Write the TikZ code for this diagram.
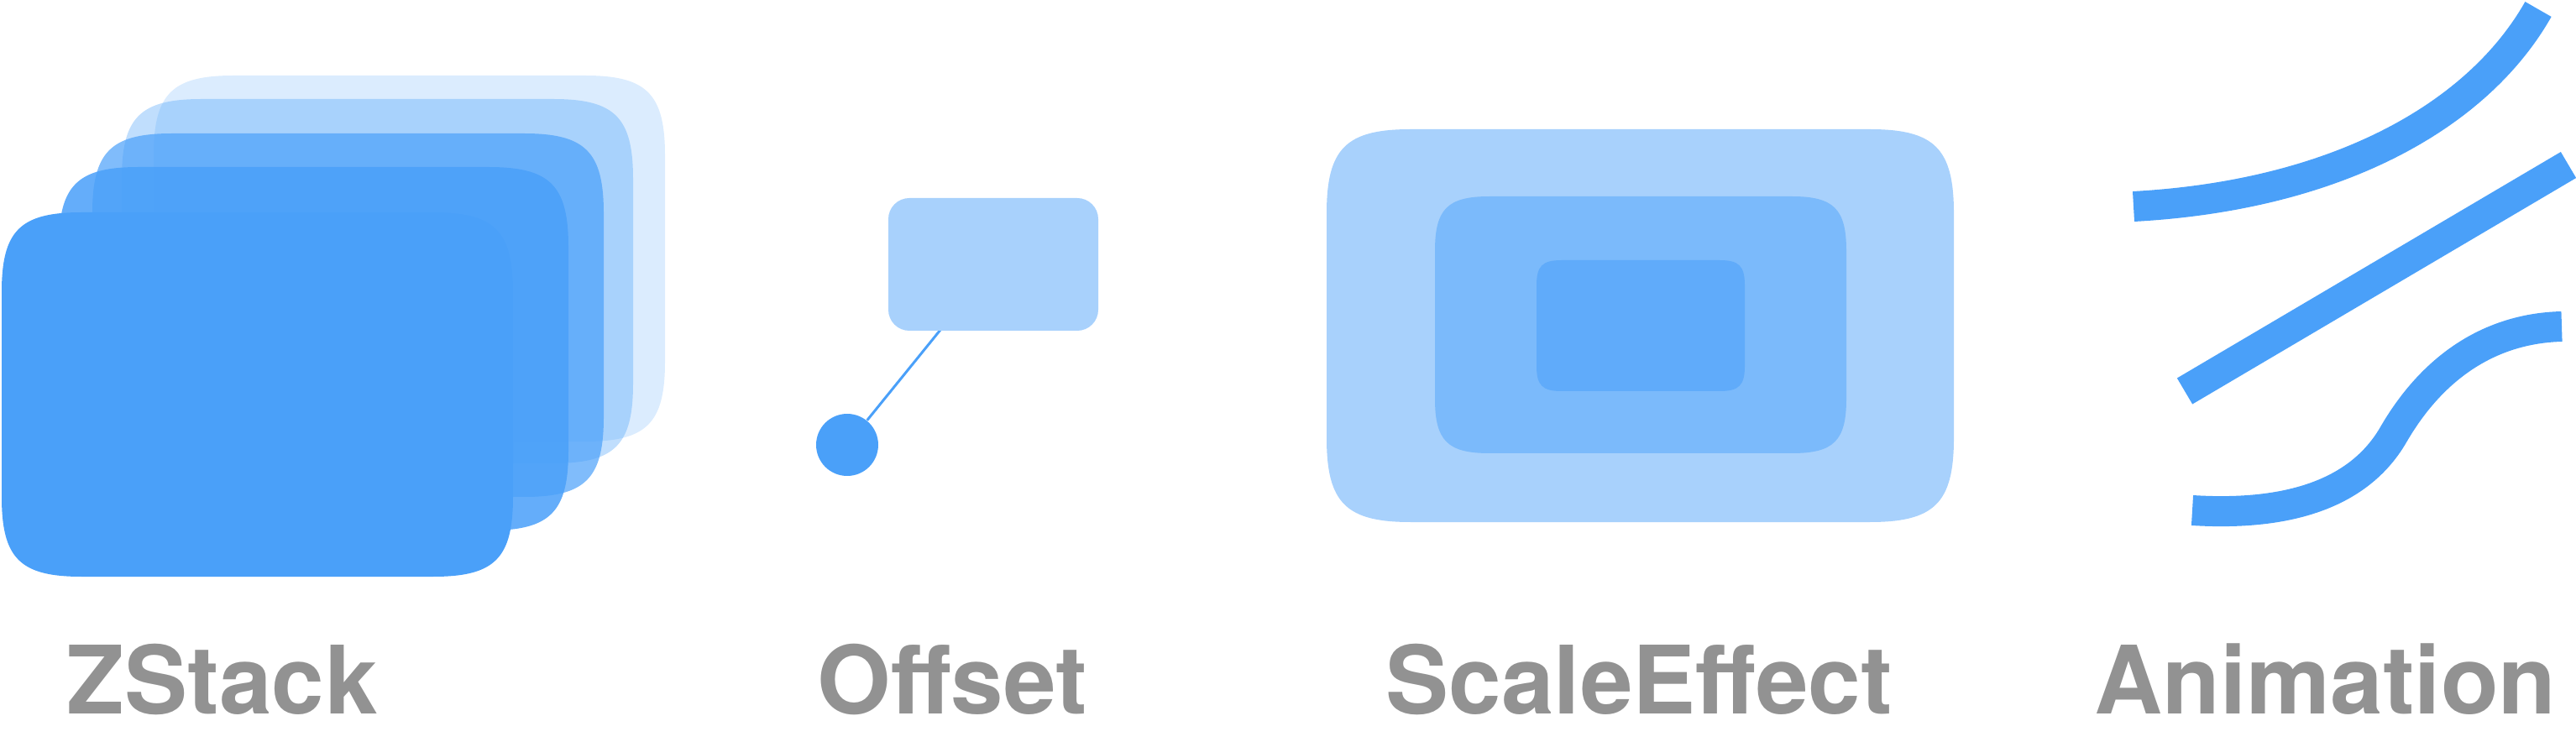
\documentclass[tikz,border=0pt]{standalone}
\usepackage{fontspec}
\setmainfont{TeX Gyre Heros}
\usetikzlibrary{positioning}
\definecolor{swiftblue}{HTML}{4AA0F9}
\definecolor{labelgray}{HTML}{929292}
% soft-cornered card: style, x0, y0, x1, y1, corner size
\newcommand{\softcard}[6]{%
  \path[#1] ({#2+#6},#3) -- ({#4-#6},#3)
    .. controls ({#4-0.23*#6},#3) and (#4,{#3+0.23*#6}) .. (#4,{#3+#6})
    -- (#4,{#5-#6})
    .. controls (#4,{#5-0.23*#6}) and ({#4-0.23*#6},#5) .. ({#4-#6},#5)
    -- ({#2+#6},#5)
    .. controls ({#2+0.23*#6},#5) and (#2,{#5-0.23*#6}) .. (#2,{#5-#6})
    -- (#2,{#3+#6})
    .. controls (#2,{#3+0.23*#6}) and ({#2+0.23*#6},#3) .. ({#2+#6},#3) -- cycle;}
\begin{document}
\begin{tikzpicture}[x=1cm,y=-1cm,
      card/.style={fill=swiftblue,fill opacity=#1},
      stroke/.style={draw=swiftblue,line width=0.36cm},
      wire/.style={draw=swiftblue,line width=0.03cm},
      caption/.style={anchor=base west,inner sep=0pt,text=labelgray,
        font=\fontsize{32}{36}\selectfont\bfseries}]
      \useasboundingbox (0,0) rectangle (30.68,8.84);
      % ZStack
      \softcard{card=0.2}{1.83}{0.90}{7.92}{5.26}{0.95}
      \softcard{card=0.35}{1.45}{1.18}{7.54}{5.52}{0.95}
      \softcard{card=0.7}{1.10}{1.59}{7.19}{5.92}{0.95}
      \softcard{card=0.86}{0.70}{1.99}{6.77}{6.32}{0.95}
      \softcard{card=1}{0.02}{2.53}{6.11}{6.87}{0.95}
      \node[caption] (zstack) at (0.79,8.50) {ZStack};
      % Offset
      \coordinate (pin) at (1.20+10,3.93);
      \node[circle,fill=swiftblue,minimum size=0.74cm,inner sep=0pt] (dot) at (10.09,5.30) {};
      \draw[wire] (pin)--(dot);
      \node[rectangle,rounded corners=0.25cm,fill=swiftblue!48!white,
        minimum width=2.50cm,minimum height=1.58cm,inner sep=0pt] (box) at (11.83,3.15) {};
      \node[caption] (offset) at (9.73,8.50) {Offset};
      % ScaleEffect
      \softcard{fill=swiftblue!48!white}{15.80}{1.54}{23.27}{6.22}{1.00}
      \softcard{fill=swiftblue!73!white}{17.09}{2.34}{21.99}{5.40}{0.65}
      \softcard{fill=swiftblue!88!white}{18.30}{3.10}{20.78}{4.66}{0.30}
      \node[caption] (scale) at (16.50,8.50) {ScaleEffect};
      % Animation
      \coordinate (a) at (25.41,2.46);
      \coordinate (b) at (30.23,0.11);
      \coordinate (c) at (26.02,4.66);
      \coordinate (d) at (30.59,1.965);
      \coordinate (e) at (26.11,6.08);
      \coordinate (f) at (28.51,5.17);
      \coordinate (g) at (30.51,3.89);
      \draw[stroke] (a) .. controls (27.80,2.33) and (29.50,1.40) .. (b);
      \draw[stroke] (c)--(d);
      \draw[stroke] (e) .. controls (27.40,6.16) and (28.15,5.80) .. (f)
        .. controls (29.00,4.33) and (29.70,3.91) .. (g);
      \node[caption] (anim) at (24.94,8.50) {Animation};
\end{tikzpicture}
\end{document}
